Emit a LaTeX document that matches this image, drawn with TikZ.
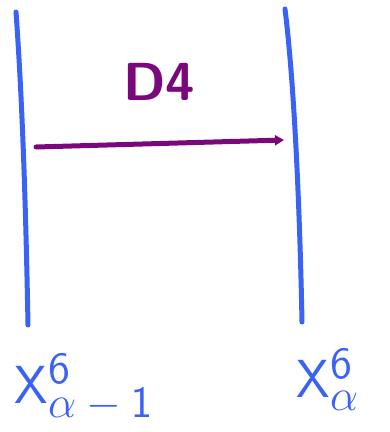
\documentclass[tikz,border=0pt]{standalone}
\usetikzlibrary{arrows.meta}

\definecolor{penblue}{RGB}{58,98,245}
\definecolor{penpurple}{RGB}{122,8,124}

\newcommand{\bigscr}[1]{\mbox{\Large$#1$}}

\begin{document}
\begin{tikzpicture}[x=1pt, y=-1pt,
    wall/.style={penblue, line width=5pt, line cap=round},
    flow/.style={penpurple, line width=5pt, line cap=round,
      -{Triangle[length=9pt, width=10pt]}},
    steplabel/.style={penpurple, font=\sffamily\bfseries\LARGE, scale=3.1, inner sep=0pt},
    lbl/.style={penblue, font=\sffamily\LARGE, scale=3.1, inner sep=0pt}
  ]
    \useasboundingbox (0,0) rectangle (390,432);

    % the two walls
    \coordinate (lt) at (16,12);
    \coordinate (lb) at (28,325);
    \coordinate (rt) at (285,9);
    \coordinate (rb) at (302,322);
    \draw[wall] (lt) .. controls (23,110) and (26,220) .. (lb);
    \draw[wall] (rt) .. controls (295,90) and (300,220) .. (rb);

    % the step between them
    \coordinate (src) at (36,147);
    \coordinate (dst) at (284,140);
    \draw[flow] (src) -- (dst);
    \node[steplabel] (dfour) at (159,82) {D4};

    \node[lbl, anchor=west] (xprev) at (14,388)
      {$\mathsf{X}^{\bigscr{\mathsf{6}}}_{\bigscr{\alpha-\mathsf{1}}}$};
    \node[lbl, anchor=west] (xcur) at (296,380)
      {$\mathsf{X}^{\bigscr{\mathsf{6}}}_{\bigscr{\alpha}}$};
  \end{tikzpicture}
\end{document}
